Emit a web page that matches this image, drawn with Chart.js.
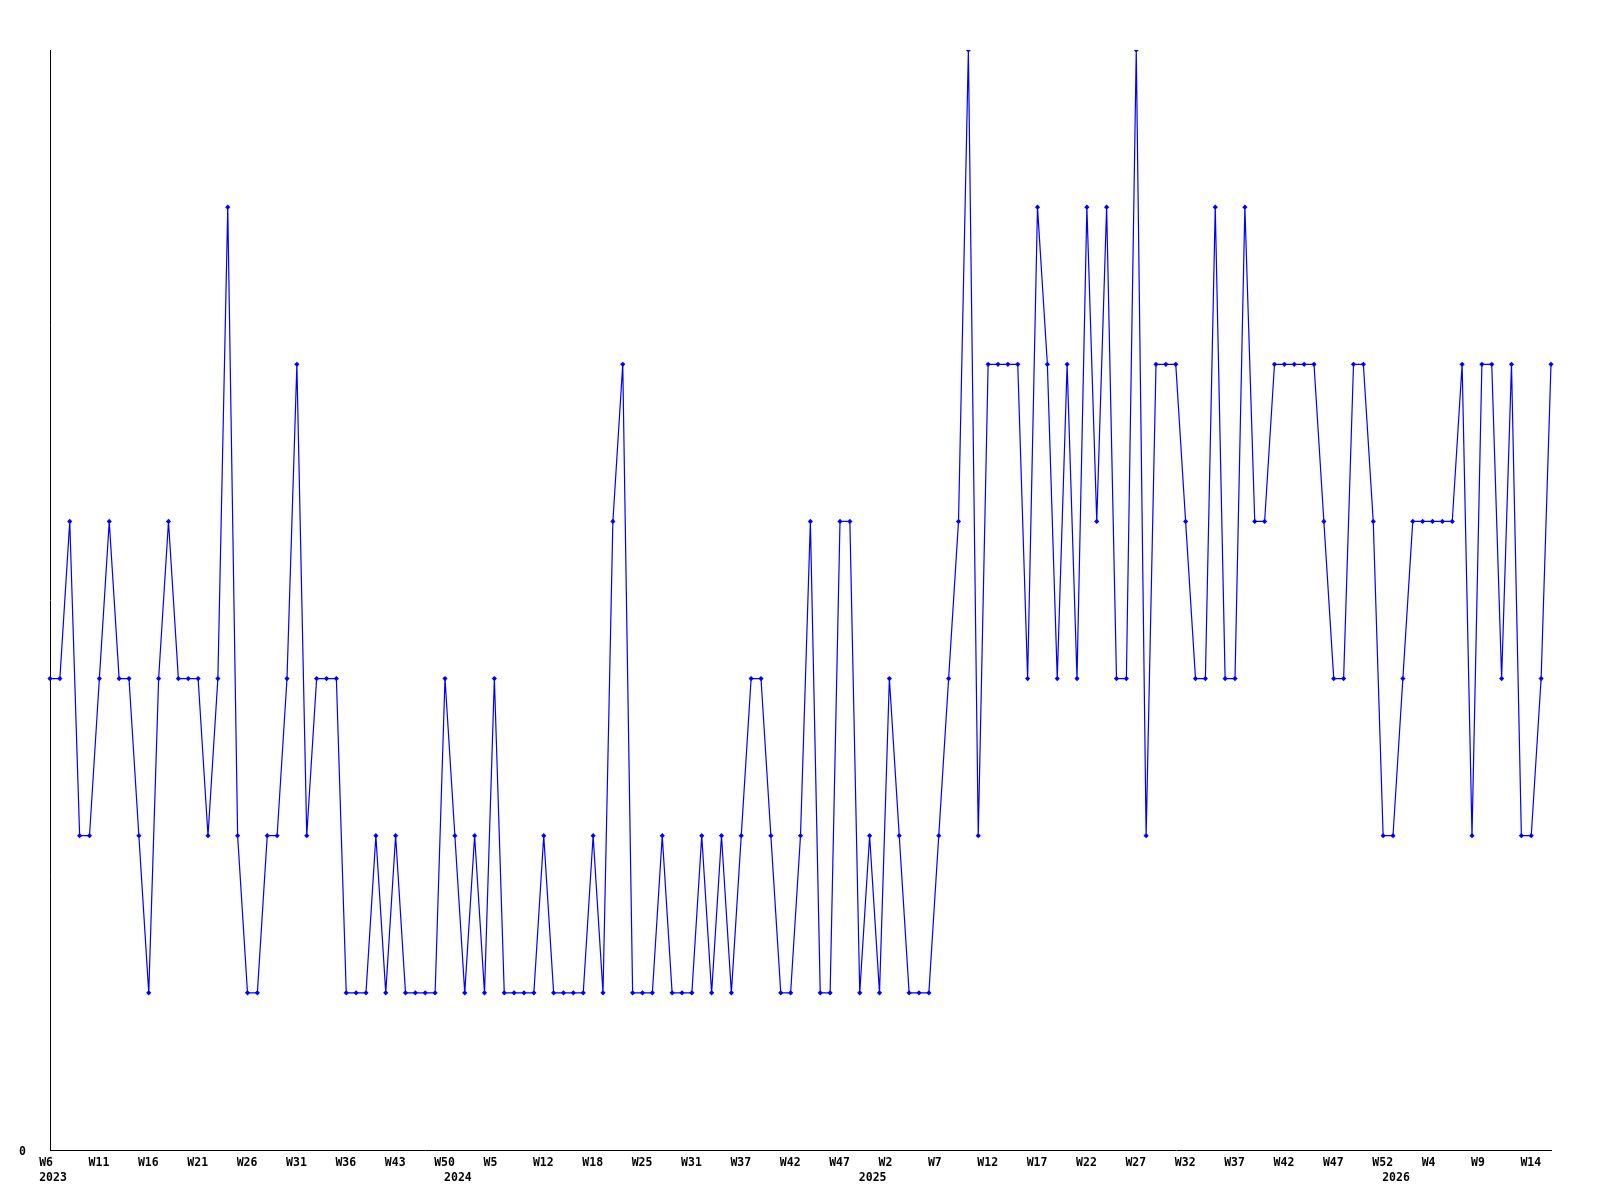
<!DOCTYPE html>
<html>
<head>
<meta charset="utf-8">
<script src="https://cdn.jsdelivr.net/npm/chart.js@4.4.1/dist/chart.umd.min.js"></script>
<style>
  html, body { margin: 0; padding: 0; background: #fff; }
  #wrap { width: 1600px; height: 1200px; }
</style>
</head>
<body>
<div id="wrap"><canvas id="c" width="1600" height="1200"></canvas></div>
<script>
// weekly values, one per category (2023 W6 .. 2026 W15)
const values = [
  3,3,4,2,2,3,4,3,3,2,1,3,4,3,3,3,2,3,6,2,1,1,2,2,3,5,
  2,3,3,3,1,1,1,2,1,2,1,1,1,1,3,2,1,2,1,3,1,1,1,1,2,
  1,1,1,1,2,1,4,5,1,1,1,2,1,1,1,2,1,2,1,2,3,3,2,1,1,2,
  4,1,1,4,4,1,2,1,3,2,1,1,1,2,3,4,7,2,5,5,5,5,3,6,5,
  3,5,3,6,4,6,3,3,7,2,5,5,5,4,3,3,6,3,3,6,4,4,5,5,5,
  5,5,4,3,3,5,5,4,2,2,3,4,4,4,4,4,5,2,5,5,3,5,2,2,3,5
];

// week labels shown on every 5th category
const weekTicks = ['W6','W11','W16','W21','W26','W31','W36','W43','W50','W5','W12','W18','W25','W31','W37',
  'W42','W47','W2','W7','W12','W17','W22','W27','W32','W37','W42','W47','W52','W4','W9','W14'];
const tickEvery = 5;

// year labels and the category where each year starts
const years = ['2023','2024','2025','2026'];
const yearStart = [0, 41, 83, 136];

const categories = values.map((v, i) => String(i));

const pad = s => s.padEnd(4, ' ');
const font = { family: '"DejaVu Sans Mono", monospace', size: 11.5, weight: 'bold', lineHeight: 1.3 };

new Chart(document.getElementById('c'), {
  type: 'line',
  data: {
    labels: categories,
    datasets: [{
      data: values,
      borderColor: '#0000ff',
      backgroundColor: '#0000ff',
      borderWidth: 1.2,
      tension: 0,
      pointStyle: 'rectRot',
      pointRadius: 2.6,
      pointBorderWidth: 0,
      pointBackgroundColor: '#0000ff'
    }]
  },
  options: {
    responsive: false,
    animation: false,
    layout: { padding: { top: 50, right: 49, left: 0, bottom: 0 } },
    plugins: { legend: { display: false }, tooltip: { enabled: false } },
    scales: {
      x: {
        offset: false,
        grid: { display: false, drawTicks: false },
        border: { display: true, color: '#000', width: 1 },
        afterFit: s => { s.height = 50; },
        ticks: {
          autoSkip: false,
          maxRotation: 0,
          minRotation: 0,
          padding: 6,
          labelOffset: 3,
          color: '#000',
          font,
          callback: (v, i) => {
            const y = yearStart.indexOf(i);
            const w = i % tickEvery === 0 ? pad(weekTicks[i / tickEvery]) : '    ';
            if (y >= 0) return [w, years[y]];
            if (i % tickEvery === 0) return w;
            return null;
          }
        }
      },
      y: {
        min: 0,
        max: 7,
        grid: { display: false, drawTicks: false },
        border: { display: true, color: '#000', width: 1 },
        afterFit: s => { s.width = 50; },
        ticks: {
          stepSize: 1,
          padding: 24,
          labelOffset: 2,
          color: '#000',
          font,
          callback: v => (v === 0 ? '0' : null)
        }
      }
    }
  }
});
</script>
</body>
</html>
